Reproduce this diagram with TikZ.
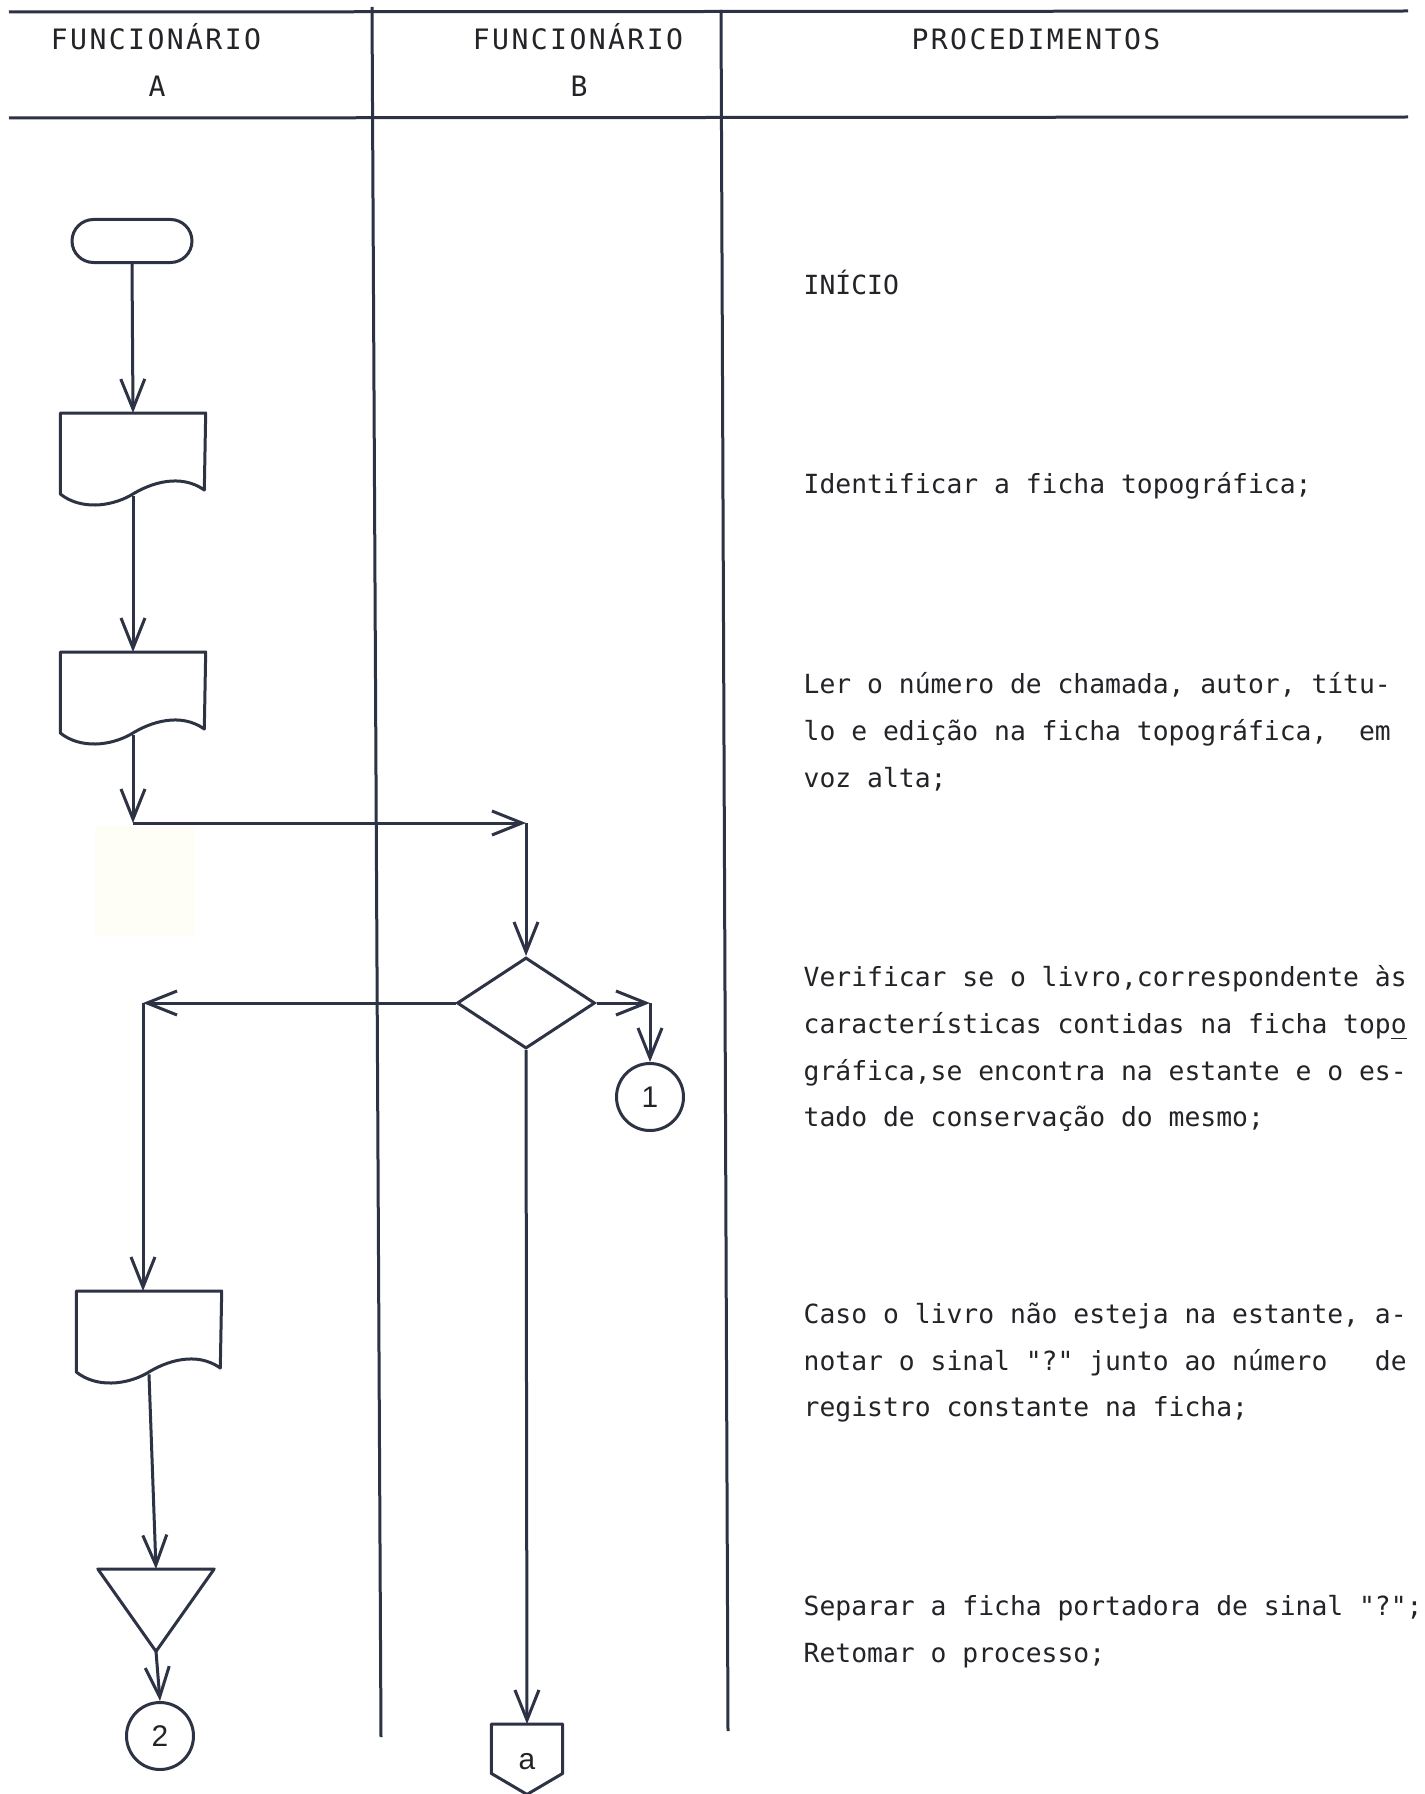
\documentclass[tikz,border=0pt]{standalone}
\usepackage{fontspec}
\newfontfamily\tw{DejaVu Sans Mono}
\newfontfamily\twh{DejaVu Sans Mono}[LetterSpace=8.5]
\newfontfamily\lsans{Liberation Sans}
\usetikzlibrary{arrows.meta,shapes.geometric,calc}
\definecolor{ink}{RGB}{45,50,68}
\definecolor{txt}{RGB}{35,35,40}
\definecolor{patch}{RGB}{254,253,246}
\newcommand{\docpath}[1]{%
  \draw[ln, line join=round] (#1.north west) -- (#1.north east) -- ($(#1.north west)+(144,77)$)
    .. controls ($(#1.north west)+(120,60)$) and ($(#1.north west)+(90,70)$) .. ($(#1.north west)+(71,82)$)
    .. controls ($(#1.north west)+(50,94)$) and ($(#1.north west)+(20,97)$) .. ($(#1.north west)+(0,81)$) -- cycle;}
\begin{document}
\begin{tikzpicture}[x=0.1mm,y=-0.1mm,
  ln/.style={draw=ink, line width=0.3mm},
  arr/.style={ln, -{Straight Barb[length=3mm,width=2.4mm]}},
  body/.style={anchor=base west, inner sep=0, text=txt, font=\tw\fontsize{7.5pt}{9pt}\selectfont},
  head/.style={anchor=base, inner sep=0, text=txt, font=\twh\fontsize{8pt}{10pt}\selectfont},
  docbox/.style={rectangle, draw=none, minimum width=14.4mm, minimum height=8.2mm, inner sep=0, anchor=north},
  conn/.style={circle, ln, minimum size=6.7mm, inner sep=0, text=txt, font=\lsans\fontsize{8.5pt}{9pt}\selectfont}
]
\useasboundingbox (0,0) rectangle (1425,1794);
\fill[white] (0,0) rectangle (1425,1794);
\fill[patch] (95,826) rectangle (195,936);

% table rules
\draw[ln] (9,12) -- (1408,11);
\draw[ln] (9,118) -- (1408,117);
\draw[ln] (372,7) -- (381,1737);
\draw[ln] (721,10) -- (728,1731);

% headers
\node[head] (hA1) at (156,50) {FUNCIONÁRIO};
\node[head] (hA2) at (157,97) {A};
\node[head] (hB1) at (578,50) {FUNCIONÁRIO};
\node[head] (hB2) at (579,97) {B};
\node[head] (hP) at (1036,50) {PROCEDIMENTOS};

% flowchart shapes
\node[ln, rectangle, rounded corners=2.15mm, minimum width=12mm, minimum height=4.3mm, inner sep=0] (term) at (132,241) {};
\node[docbox] (doc1) at (133,413) {};
\docpath{doc1}
\node[docbox] (doc2) at (133,652) {};
\docpath{doc2}
\coordinate (c1) at (133,823);
\coordinate (c2) at (526,823);
\node[diamond, ln, minimum width=13.8mm, minimum height=9.1mm, inner sep=0] (dec) at (526,1003) {};
\coordinate (c3) at (143,1003);
\coordinate (c4) at (650,1003);
\node[conn] (k1) at (650,1097) {1};
\node[docbox] (doc3) at (149,1291) {};
\docpath{doc3}
\node[rectangle, draw=none, minimum width=11.5mm, minimum height=8.1mm, inner sep=0, anchor=north] (tri) at (156,1569) {};
\draw[ln, line join=round] (tri.north west) -- (tri.north east) -- (tri.south) -- cycle;
\node[conn] (k2) at (160,1736) {2};
\node[rectangle, draw=none, minimum width=7mm, minimum height=4.8mm, inner sep=0, anchor=north] (pent) at (527,1724) {};
\draw[ln, line join=round] (pent.north west) -- (pent.north east) -- (pent.south east) -- ($(pent.south)+(0,21)$) -- (pent.south west) -- cycle;
\node[inner sep=0, text=txt, font=\lsans\fontsize{8.5pt}{9pt}\selectfont] (pa) at (527,1762) {a};

% connectors
\draw[arr] (term.south) -- (doc1.north);
\draw[arr] (doc1.south) -- (doc2.north);
\draw[arr] (doc2.south) -- (c1);
\draw[arr] (c1) -- (c2);
\draw[arr] (c2) -- (dec.north);
\draw[arr] (dec.west) -- (c3);
\draw[arr] (c3) -- (c3 |- doc3.north);
\draw[arr] (dec.east) -- (c4);
\draw[arr] (c4) -- (k1.north);
\draw[arr] (dec.south) -- (pent.north);
\draw[arr] (doc3.south) -- (tri.north);
\draw[arr] (tri.south) -- (k2.north);

% procedures
\node[body] (t1) at (803,294) {INÍCIO};
\node[body] (t2) at (803,493) {Identificar a ficha topográfica;};
\node[body] (t3) at (803,693) {Ler o número de chamada, autor, títu-};
\node[body] (t4) at (803,740) {lo e edição na ficha topográfica,~~em};
\node[body] (t5) at (803,787) {voz alta;};
\node[body] (t6) at (803,986) {Verificar se o livro,correspondente às};
\node[body] (t7) at (803,1033) {características contidas na ficha top\underline{o}};
\node[body] (t8) at (803,1080) {gráfica,se encontra na estante e o es-};
\node[body] (t9) at (803,1126) {tado de conservação do mesmo;};
\node[body] (t10) at (803,1323) {Caso o livro não esteja na estante, a-};
\node[body] (t11) at (803,1370) {notar o sinal "?" junto ao número~~~de};
\node[body] (t12) at (803,1416) {registro constante na ficha;};
\node[body] (t13) at (803,1615) {Separar a ficha portadora de sinal "?";};
\node[body] (t14) at (803,1662) {Retomar o processo;};
\end{tikzpicture}
\end{document}
